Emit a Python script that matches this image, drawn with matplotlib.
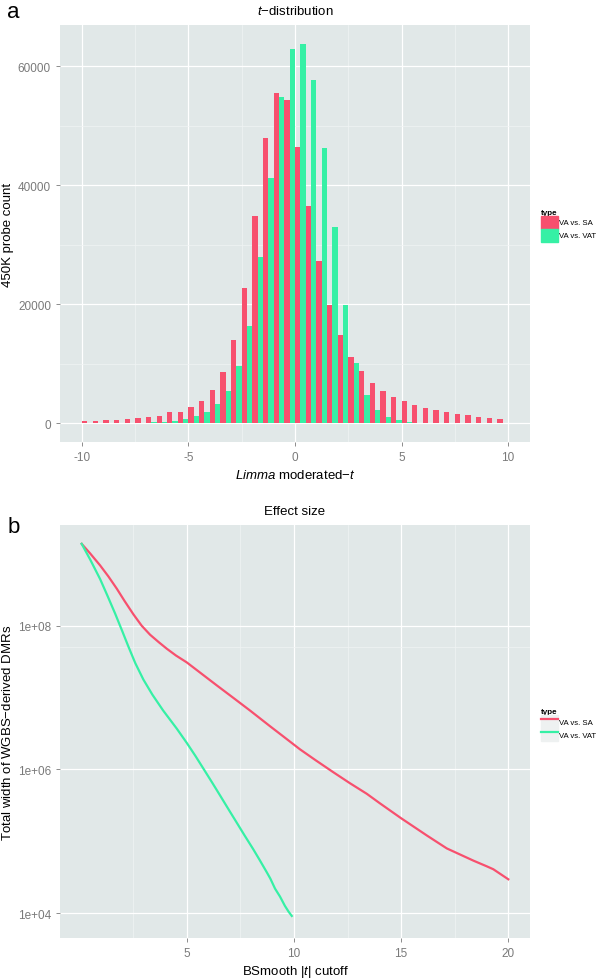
import numpy as np
import matplotlib
matplotlib.use("Agg")
import matplotlib.pyplot as plt
from matplotlib.patches import Patch
from matplotlib.lines import Line2D

plt.rcParams['font.family'] = ['Liberation Sans', 'DejaVu Sans']
plt.rcParams['mathtext.fontset'] = 'custom'
plt.rcParams['mathtext.rm'] = 'Liberation Sans'
plt.rcParams['mathtext.it'] = 'Liberation Sans:italic'
plt.rcParams['axes.unicode_minus'] = False

# panel a: histogram of limma moderated t, bins of 0.5 from -10 to 10
bin_left = np.arange(-10, 10, 0.5)
va_sa = [340, 420, 500, 560, 730, 840, 1060, 1230, 1790, 1900,
         2630, 3700, 5600, 8520, 13960, 22700, 34870, 47940, 55500, 54330,
         46370, 36450, 27200, 19900, 14800, 11100, 8690, 6730, 5380, 4370,
         3760, 3030, 2580, 2190, 1900, 1570, 1400, 1065, 900, 730]
va_vat = [0, 0, 0, 0, 20, 50, 110, 220, 390, 730,
          1230, 1900, 3200, 5440, 9640, 16370, 27870, 41200, 54900, 62900,
          63750, 57700, 46260, 33030, 19900, 10090, 4710, 2190, 1065, 450,
          170, 60, 20, 0, 0, 0, 0, 0, 0, 0]

# panel b: total DMR width (log10) vs BSmooth |t| cutoff
sa_cut = [0.1, 0.5, 0.96, 1.35, 1.74, 2.1, 2.51, 2.9, 3.29, 3.7, 4.07, 4.5,
          5.0, 5.7, 6.4, 7.2, 7.95, 8.89, 9.5, 10.28, 11.0, 11.84, 12.6,
          13.4, 14.0, 15.0, 16.2, 17.13, 18.37, 19.0, 19.3, 20.0]
sa_log = [9.14, 9.005, 8.84, 8.685, 8.515, 8.345, 8.16, 8.0, 7.875, 7.77, 7.68, 7.585,
          7.49, 7.33, 7.17, 6.99, 6.82, 6.6, 6.46, 6.28, 6.13, 5.96, 5.81,
          5.66, 5.53, 5.32, 5.08, 4.90, 4.73, 4.65, 4.61, 4.47]
vat_cut = [0.1, 0.5, 0.96, 1.3, 1.66, 2.0, 2.28, 2.6, 2.98, 3.4, 3.9, 4.53,
           5.0, 5.4, 5.78, 6.2, 6.55, 7.0, 7.33, 7.7, 8.1, 8.4, 8.73, 8.9,
           9.12, 9.35, 9.58, 9.75, 9.9]
vat_log = [9.14, 8.92, 8.65, 8.42, 8.17, 7.92, 7.71, 7.48, 7.25, 7.04, 6.82, 6.57,
           6.37, 6.19, 6.01, 5.81, 5.64, 5.42, 5.26, 5.08, 4.89, 4.74, 4.57, 4.48,
           4.34, 4.23, 4.10, 4.02, 3.96]

red = '#F7506E'
green = '#36F0A5'
panel_bg = '#E1E8E8'
key_bg = '#EEF1F1'
tick_col = '#7A7A7A'

fig = plt.figure(figsize=(6, 9.79), dpi=100)


def style_axes(ax):
    ax.set_facecolor(panel_bg)
    for s in ax.spines.values():
        s.set_visible(False)
    ax.tick_params(axis='both', colors=tick_col, labelcolor=tick_col,
                   labelsize=8.5, length=3, width=0.6)
    ax.grid(which='major', color='white', linewidth=0.9)
    ax.grid(which='minor', color='#F0F4F4', linewidth=0.5)
    ax.set_axisbelow(True)


# ---- panel a ----
ax1 = fig.add_axes([0.1, 0.5475, 0.7833, 0.426])
style_axes(ax1)
ax1.bar(bin_left, va_sa, width=0.25, align='edge', color=red, linewidth=0)
ax1.bar(bin_left + 0.25, va_vat, width=0.25, align='edge', color=green, linewidth=0)
ax1.set_xlim(-11.03, 11.03)
ax1.set_ylim(-3190, 66940)
ax1.set_xticks([-10, -5, 0, 5, 10])
ax1.set_xticks([-7.5, -2.5, 2.5, 7.5], minor=True)
ax1.set_yticks([0, 20000, 40000, 60000])
ax1.set_yticks([10000, 30000, 50000], minor=True)
ax1.tick_params(which='minor', length=0)
ax1.set_xlabel(r'$\it{Limma}$ moderated$-\it{t}$', fontsize=9.5)
ax1.set_ylabel('450K probe count', fontsize=9.5)
ax1.xaxis.set_label_coords(0.5, -0.062)
ax1.yaxis.set_label_coords(-0.097, 0.5)
ax1.set_title(r'$\it{t}$$-$distribution', fontsize=9.5, pad=8)

leg1 = fig.legend(handles=[Patch(color=red, label='VA vs. SA'),
                           Patch(color=green, label='VA vs. VAT')],
                  title='type', loc='upper left', bbox_to_anchor=(0.9017, 0.786),
                  frameon=False, fontsize=5.6, title_fontsize=5.8,
                  handlelength=2.2, handleheight=2.2, handletextpad=0.15,
                  labelspacing=0.0, borderpad=0, borderaxespad=0)
leg1.get_title().set_fontweight('bold')
leg1._legend_box.align = 'left'

# ---- panel b ----
ax2 = fig.add_axes([0.1, 0.0405, 0.7833, 0.4225])
style_axes(ax2)
ax2.set_yscale('log')
ax2.plot(sa_cut, 10 ** np.array(sa_log), color=red, linewidth=1.6)
ax2.plot(vat_cut, 10 ** np.array(vat_log), color=green, linewidth=1.6)
ax2.set_xlim(-0.91, 21.01)
ax2.set_ylim(10 ** 3.648, 10 ** 9.406)
ax2.set_xticks([5, 10, 15, 20])
ax2.set_xticks([2.5, 7.5, 12.5, 17.5], minor=True)
ax2.set_yticks([1e4, 1e6, 1e8])
ax2.set_yticklabels(['1e+04', '1e+06', '1e+08'])
ax2.set_yticks([5e7], minor=True)
ax2.set_yticklabels([''], minor=True)
ax2.tick_params(which='minor', length=0)
ax2.set_xlabel(r'BSmooth |$\it{t}$| cutoff', fontsize=9.5)
ax2.set_ylabel('Total width of WGBS$-$derived DMRs', fontsize=9.5)
ax2.xaxis.set_label_coords(0.5, -0.06)
ax2.yaxis.set_label_coords(-0.097, 0.5)
ax2.set_title('Effect size', fontsize=9.5, pad=8)

leg2 = fig.legend(handles=[(Patch(color=key_bg), Line2D([], [], color=red, lw=1.6)),
                           (Patch(color=key_bg), Line2D([], [], color=green, lw=1.6))],
                  labels=['VA vs. SA', 'VA vs. VAT'],
                  title='type', loc='upper left', bbox_to_anchor=(0.9017, 0.276),
                  frameon=False, fontsize=5.6, title_fontsize=5.8,
                  handlelength=2.2, handleheight=2.2, handletextpad=0.15,
                  labelspacing=0.0, borderpad=0, borderaxespad=0)
leg2.get_title().set_fontweight('bold')
leg2._legend_box.align = 'left'

fig.text(0.012, 1 - 18 / 979, 'a', fontsize=16, ha='left', va='baseline')
fig.text(0.012, 1 - 533 / 979, 'b', fontsize=16, ha='left', va='baseline')

plt.savefig('out.png', dpi=100)
